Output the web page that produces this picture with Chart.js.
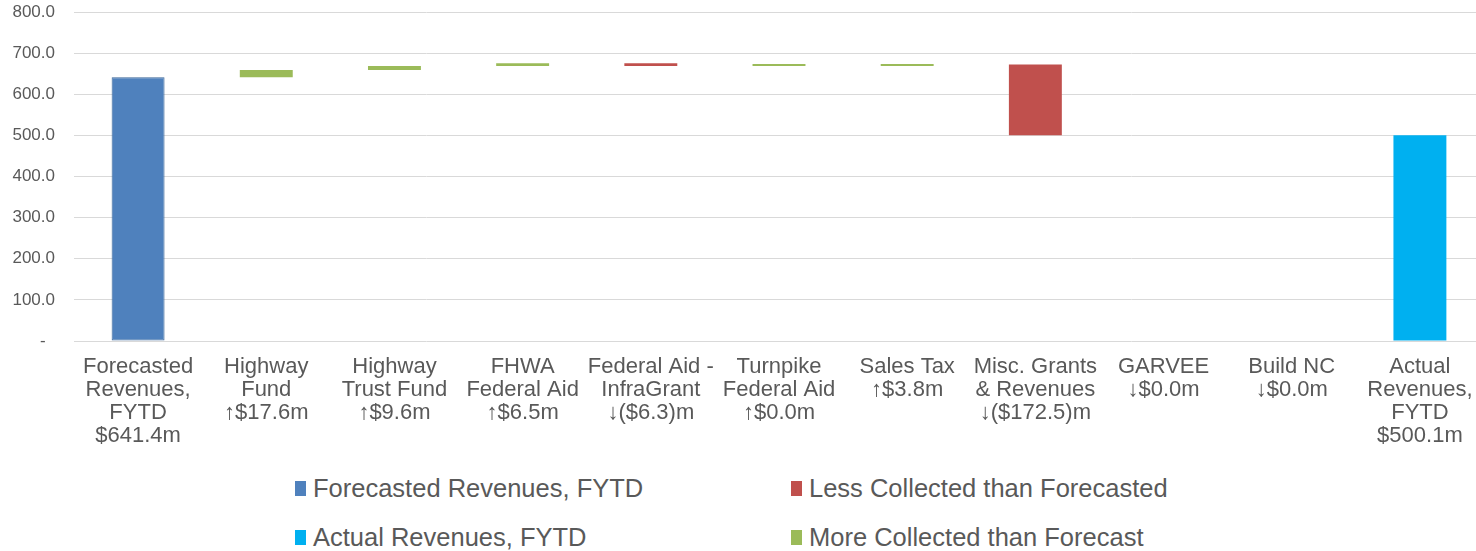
<!DOCTYPE html>
<html>
<head>
<meta charset="utf-8">
<title>Revenues waterfall</title>
<script src="https://cdn.jsdelivr.net/npm/chart.js@4.4.0/dist/chart.umd.min.js"></script>
<style>
    html, body { margin: 0; padding: 0; background: #fff; }
    #wrap { position: relative; width: 1476px; height: 551px; overflow: hidden; }
    #chartBox { position: absolute; left: 0; top: 0; width: 1484px; height: 462px; }
    #legend {
        position: absolute; left: 295px; top: 464px;
        display: grid; grid-template-columns: 496px 496px; grid-auto-rows: 49px;
        font-family: "Liberation Sans", Arial, sans-serif; font-size: 25.5px; color: #595959;
    }
    #legend .item { display: flex; align-items: center; white-space: nowrap; }
    #legend .box { width: 11px; height: 15px; margin-right: 7px; }
</style>
</head>
<body>
<div id="wrap">
    <div id="chartBox"><canvas id="waterfall"></canvas></div>
    <div id="legend"></div>
</div>
<script>
    // categories (multi-line tick labels)
    var categories = [
        ['Forecasted', 'Revenues,', 'FYTD', '$641.4m'],
        ['Highway', 'Fund', '\u2191$17.6m'],
        ['Highway', 'Trust Fund', '\u2191$9.6m'],
        ['FHWA', 'Federal Aid', '\u2191$6.5m'],
        ['Federal Aid -', 'InfraGrant', '\u2193($6.3)m'],
        ['Turnpike', 'Federal Aid', '\u2191$0.0m'],
        ['Sales Tax', '\u2191$3.8m'],
        ['Misc. Grants', '& Revenues', '\u2193($172.5)m'],
        ['GARVEE', '\u2193$0.0m'],
        ['Build NC', '\u2193$0.0m'],
        ['Actual', 'Revenues,', 'FYTD', '$500.1m']
    ];

    // floating bars [start, end] in $m
    var forecastedRevenues = [[0, 641.4], null, null, null, null, null, null, null, null, null, null];
    var lessCollected = [null, null, null, null, [675.1, 668.8], null, null, [672.6, 500.1], [500.1, 500.1], [500.1, 500.1], null];
    var actualRevenues = [null, null, null, null, null, null, null, null, null, null, [0, 500.1]];
    var moreCollected = [null, [641.4, 659.0], [659.0, 668.6], [668.6, 675.1], null, [668.8, 668.8], [668.8, 672.6], null, null, null, null];

    var yTicks = [0, 100, 200, 300, 400, 500, 600, 700, 800];

    var font = '"Liberation Sans", Arial, sans-serif';

    var ctx = document.getElementById('waterfall');
    var chart = new Chart(ctx, {
        type: 'bar',
        data: {
            labels: categories,
            datasets: [
                { label: 'Forecasted Revenues, FYTD', data: forecastedRevenues, backgroundColor: '#4F81BD', borderColor: '#3A6699', borderWidth: 1, borderSkipped: false },
                { label: 'Less Collected than Forecasted', data: lessCollected, backgroundColor: '#C0504D' },
                { label: 'Actual Revenues, FYTD', data: actualRevenues, backgroundColor: '#00B0F0' },
                { label: 'More Collected than Forecast', data: moreCollected, backgroundColor: '#9BBB59', minBarLength: 2 }
            ]
        },
        options: {
            responsive: true,
            maintainAspectRatio: false,
            animation: false,
            layout: { padding: { top: 12, right: 0, left: 0, bottom: 0 } },
            datasets: { bar: { grouped: false, barPercentage: 0.413, categoryPercentage: 1 } },
            plugins: {
                legend: { display: false },
                tooltip: { enabled: false }
            },
            scales: {
                x: {
                    grid: { display: false, drawTicks: false },
                    border: { display: false },
                    ticks: {
                        autoSkip: false, maxRotation: 0, minRotation: 0, padding: 14,
                        color: '#595959',
                        font: { family: font, size: 22, lineHeight: '23px' }
                    },
                    afterFit: function (scale) { scale.height = 121; scale.paddingLeft = 0; scale.paddingRight = 0; }
                },
                y: {
                    min: 0, max: 800,
                    grid: { color: '#D9D9D9', lineWidth: 1, drawTicks: false },
                    border: { display: false },
                    afterBuildTicks: function (scale) { scale.ticks = yTicks.map(function (v) { return { value: v }; }); },
                    ticks: {
                        padding: 19,
                        color: '#595959',
                        font: { family: font, size: 17 },
                        callback: function (v) { return v === 0 ? '-  ' : v.toFixed(1); }
                    },
                    afterFit: function (scale) { scale.width = 74; scale.paddingTop = 0; scale.paddingBottom = 0; }
                }
            }
        }
    });

    // legend laid out 2 x 2 like the original
    var legendEl = document.getElementById('legend');
    chart.data.datasets.forEach(function (ds) {
        var item = document.createElement('div');
        item.className = 'item';
        var box = document.createElement('span');
        box.className = 'box';
        box.style.background = ds.backgroundColor;
        var txt = document.createElement('span');
        txt.textContent = ds.label;
        item.appendChild(box);
        item.appendChild(txt);
        legendEl.appendChild(item);
    });
</script>
</body>
</html>
